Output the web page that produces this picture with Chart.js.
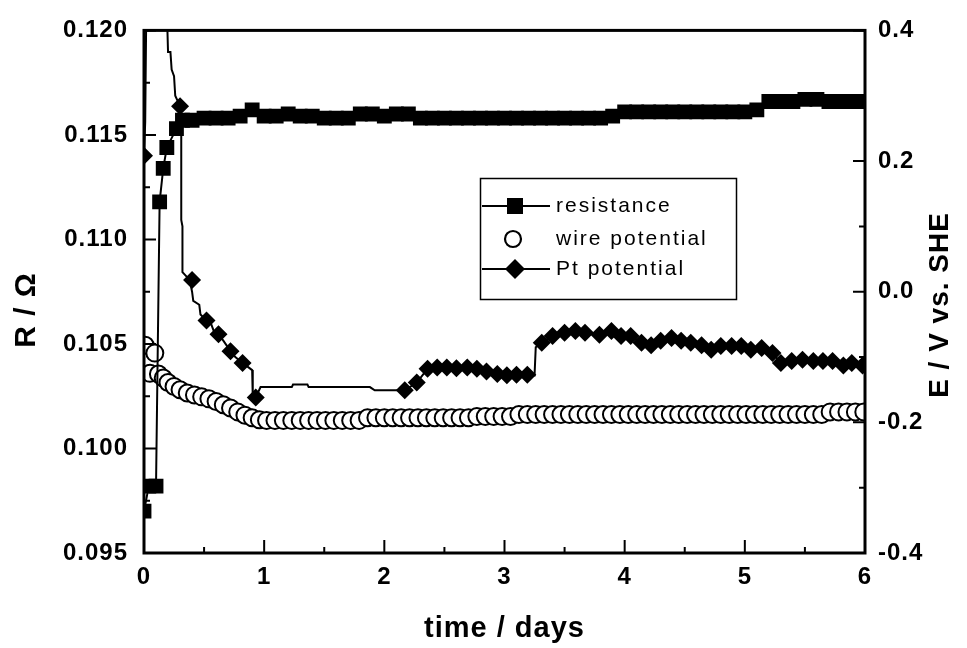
<!DOCTYPE html>
<html><head><meta charset="utf-8">
<script src="https://cdn.jsdelivr.net/npm/chart.js@4/dist/chart.umd.min.js"></script>
<style>html,body{margin:0;padding:0;background:#fff}#wrap{width:967px;height:648px}</style>
</head><body><div id="wrap"><canvas id="c" width="967" height="648"></canvas></div>
<script>
// ---------- data ----------
const resTime = [0, 0.04, 0.1, 0.13, 0.16, 0.19, 0.27, 0.32,
  0.4, 0.5, 0.6, 0.7, 0.8, 0.9, 1.0, 1.1, 1.2, 1.3, 1.4, 1.5, 1.6, 1.7, 1.8, 1.9, 2.0, 2.1, 2.2, 2.3,
  2.4, 2.5, 2.6, 2.7, 2.8, 2.9, 3.0, 3.1, 3.2, 3.3, 3.4, 3.5, 3.6, 3.7, 3.8, 3.9,
  4.0, 4.1, 4.2, 4.3, 4.4, 4.5, 4.6, 4.7, 4.8, 4.9, 5.0, 5.1,
  5.2, 5.3, 5.4, 5.5, 5.6, 5.7, 5.8, 5.9, 6.0];
const resVal = [0.0970, 0.0982, 0.0982, 0.1118, 0.1134, 0.1144, 0.1153, 0.1157,
  0.1157, 0.1158, 0.1158, 0.1158, 0.1159, 0.1162, 0.1159, 0.1159, 0.1160, 0.1159, 0.1159, 0.1158, 0.1158, 0.1158, 0.1160, 0.1160, 0.1159, 0.1160, 0.1160, 0.1158,
  0.1158, 0.1158, 0.1158, 0.1158, 0.1158, 0.1158, 0.1158, 0.1158, 0.1158, 0.1158, 0.1158, 0.1158, 0.1158, 0.1158, 0.1158, 0.1159,
  0.1161, 0.1161, 0.1161, 0.1161, 0.1161, 0.1161, 0.1161, 0.1161, 0.1161, 0.1161, 0.1161, 0.1162,
  0.1166, 0.1166, 0.1166, 0.1167, 0.1167, 0.1166, 0.1166, 0.1166, 0.1166];

const wireTime = [0.01, 0.05, 0.09, 0.12, 0.16, 0.20, 0.25, 0.30, 0.36, 0.42, 0.48, 0.54, 0.60, 0.66, 0.72, 0.78, 0.84, 0.90, 0.96, 1.02,
  1.09, 1.16, 1.23, 1.30, 1.37, 1.44, 1.51, 1.58, 1.65, 1.72, 1.79,
  1.86, 1.93, 2.00, 2.07, 2.14, 2.21, 2.28, 2.35, 2.42, 2.49, 2.56, 2.63, 2.70,
  2.77, 2.84, 2.91, 2.98, 3.05,
  3.12, 3.19, 3.26, 3.33, 3.40, 3.47, 3.54, 3.61, 3.68, 3.75, 3.82, 3.89, 3.96, 4.03, 4.10, 4.17, 4.24, 4.31, 4.38,
  4.45, 4.52, 4.59, 4.66, 4.73, 4.80, 4.87, 4.94, 5.01, 5.08, 5.15, 5.22, 5.29, 5.36, 5.43, 5.50, 5.57, 5.64,
  5.71, 5.78, 5.85, 5.92, 5.99];
const wireVal = [-0.082, -0.125, -0.094, -0.126, -0.132, -0.139, -0.145, -0.150, -0.155, -0.158, -0.161, -0.164, -0.168, -0.173, -0.178, -0.184, -0.189, -0.193, -0.196, -0.197,
  -0.197, -0.197, -0.197, -0.197, -0.197, -0.197, -0.197, -0.197, -0.197, -0.197, -0.197,
  -0.193, -0.193, -0.193, -0.193, -0.193, -0.193, -0.193, -0.193, -0.193, -0.193, -0.193, -0.193, -0.193,
  -0.191, -0.191, -0.191, -0.191, -0.191,
  -0.188, -0.188, -0.188, -0.188, -0.188, -0.188, -0.188, -0.188, -0.188, -0.188, -0.188, -0.188, -0.188, -0.188, -0.188, -0.188, -0.188, -0.188, -0.188,
  -0.188, -0.188, -0.188, -0.188, -0.188, -0.188, -0.188, -0.188, -0.188, -0.188, -0.188, -0.188, -0.188, -0.188, -0.188, -0.188, -0.188, -0.188,
  -0.184, -0.184, -0.184, -0.184, -0.184];

// Pt potential: diamond markers
const ptMarkTime = [0.0, 0.30, 0.40, 0.52, 0.62, 0.72, 0.82, 0.93,
  2.17, 2.27, 2.36, 2.44, 2.52, 2.60, 2.69, 2.77, 2.85, 2.94, 3.02, 3.10, 3.19,
  3.31, 3.40, 3.50, 3.59, 3.67, 3.79, 3.89, 3.97, 4.05, 4.14, 4.22, 4.30, 4.39, 4.47, 4.55, 4.64,
  4.72, 4.80, 4.89, 4.97, 5.05, 5.14, 5.23, 5.30, 5.39, 5.48, 5.57, 5.65, 5.73, 5.82, 5.89, 5.98];
const ptMarkVal = [0.208, 0.284, 0.018, -0.044, -0.065, -0.091, -0.109, -0.162,
  -0.151, -0.139, -0.118, -0.116, -0.116, -0.117, -0.116, -0.118, -0.122, -0.126, -0.128, -0.127, -0.127,
  -0.078, -0.068, -0.063, -0.060, -0.063, -0.066, -0.060, -0.068, -0.068, -0.078, -0.082, -0.075, -0.071, -0.075, -0.078, -0.082,
  -0.089, -0.083, -0.083, -0.083, -0.089, -0.086, -0.094, -0.109, -0.106, -0.104, -0.106, -0.106, -0.106, -0.113, -0.109, -0.113];
// Pt potential: continuous recorded trace (the line)
const ptLineTime = [0, 0.01, 0.02, 0.19, 0.195, 0.2, 0.22, 0.23, 0.25, 0.26, 0.30, 0.31, 0.31, 0.32, 0.32, 0.38, 0.40, 0.41, 0.46, 0.47,
  0.52, 0.56, 0.58, 0.62, 0.66, 0.72, 0.76, 0.82, 0.90, 0.905, 0.93, 0.97, 1.23, 1.24, 1.36, 1.37, 1.88, 1.92, 2.10,
  2.17, 2.27, 2.36, 2.44, 2.52, 2.60, 2.69, 2.77, 2.85, 2.94, 3.02, 3.10, 3.19, 3.25, 3.26,
  3.31, 3.40, 3.50, 3.59, 3.67, 3.79, 3.89, 3.97, 4.05, 4.14, 4.22, 4.30, 4.39, 4.47, 4.55, 4.64,
  4.72, 4.80, 4.89, 4.97, 5.05, 5.14, 5.23, 5.30, 5.39, 5.48, 5.57, 5.65, 5.73, 5.82, 5.89, 5.98];
const ptLineVal = [0.208, 0.26, 0.45, 0.45, 0.40, 0.367, 0.367, 0.34, 0.33, 0.30, 0.284, 0.27, 0.11, 0.10, 0.03, 0.018, 0.0, -0.014, -0.02, -0.035,
  -0.044, -0.05, -0.06, -0.065, -0.075, -0.091, -0.10, -0.109, -0.12, -0.16, -0.162, -0.146, -0.146, -0.142, -0.142, -0.146, -0.146, -0.151, -0.151,
  -0.151, -0.139, -0.118, -0.116, -0.116, -0.117, -0.116, -0.118, -0.122, -0.126, -0.128, -0.127, -0.127, -0.128, -0.085,
  -0.078, -0.068, -0.063, -0.060, -0.063, -0.066, -0.060, -0.068, -0.068, -0.078, -0.082, -0.075, -0.071, -0.075, -0.078, -0.082,
  -0.089, -0.083, -0.083, -0.083, -0.089, -0.086, -0.094, -0.109, -0.106, -0.104, -0.106, -0.106, -0.106, -0.113, -0.109, -0.113];

// ticks
const xTickVals = [0, 1, 2, 3, 4, 5, 6];
const xTickLabels = ['0', '1', '2', '3', '4', '5', '6'];
const xMinorVals = [0.5, 1.5, 2.5, 3.5, 4.5, 5.5];
const yLeftTickVals = [0.095, 0.100, 0.105, 0.110, 0.115, 0.120];
const yLeftTickLabels = ['0.095', '0.100', '0.105', '0.110', '0.115', '0.120'];
const yLeftMinorVals = [0.0975, 0.1025, 0.1075, 0.1125, 0.1175];
const yRightTickVals = [-0.4, -0.2, 0.0, 0.2, 0.4];
const yRightTickLabels = ['-0.4', '-0.2', '0.0', '0.2', '0.4'];
const yRightMinorVals = [-0.3, -0.1, 0.1, 0.3];

const seriesNames = ['resistance', 'wire potential', 'Pt potential'];
const xTitle = 'time / days';
const yLeftTitle = 'R / \u03A9';
const yRightTitle = 'E / V vs. SHE';

// ---------- chart ----------
const FONT = 'Arial, "Liberation Sans", Helvetica, sans-serif';
Chart.defaults.font.family = FONT;
Chart.defaults.color = '#000';
const pts = (xs, ys) => xs.map((t, i) => ({x: t, y: ys[i]}));

const framePlugin = {
  id: 'framePlugin',
  beforeDraw(chart) { chart.ctx.letterSpacing = '1px'; },
  afterDatasetsDraw(chart) {
    const {ctx, chartArea: a, scales: {x, yL, yR}} = chart;
    ctx.save();
    ctx.strokeStyle = '#000';
    ctx.lineWidth = 2;
    ctx.beginPath();
    const seg = (x1, y1, x2, y2) => { ctx.moveTo(x1, y1); ctx.lineTo(x2, y2); };
    xTickVals.forEach(v => { const p = x.getPixelForValue(v); seg(p, a.bottom, p, a.bottom - 13); });
    xMinorVals.forEach(v => { const p = x.getPixelForValue(v); seg(p, a.bottom, p, a.bottom - 6); });
    yLeftTickVals.forEach(v => { const p = yL.getPixelForValue(v); seg(a.left, p, a.left + 12, p); });
    yLeftMinorVals.forEach(v => { const p = yL.getPixelForValue(v); seg(a.left, p, a.left + 6, p); });
    yRightTickVals.forEach(v => { const p = yR.getPixelForValue(v); seg(a.right, p, a.right - 12, p); });
    yRightMinorVals.forEach(v => { const p = yR.getPixelForValue(v); seg(a.right, p, a.right - 6, p); });
    ctx.stroke();
    ctx.lineWidth = 3;
    ctx.strokeRect(a.left, a.top, a.right - a.left, a.bottom - a.top);
    ctx.restore();
  },
  afterDraw(chart) {
    const ctx = chart.ctx;
    // vertical axis titles, both reading bottom-to-top
    const vTitle = (txt, cx, cy, size) => {
      ctx.save();
      ctx.font = 'bold ' + size + 'px ' + FONT;
      ctx.letterSpacing = '1px';
      ctx.fillStyle = '#000';
      ctx.textAlign = 'center';
      ctx.textBaseline = 'middle';
      ctx.translate(cx, cy);
      ctx.rotate(-Math.PI / 2);
      ctx.fillText(txt, 0, 0);
      ctx.restore();
    };
    vTitle(yLeftTitle, 27, 310, 30);
    vTitle(yRightTitle, 940, 305, 28);

    // legend box
    ctx.save();
    ctx.strokeStyle = '#000';
    ctx.lineWidth = 1.5;
    ctx.strokeRect(480.5, 178.5, 256, 121);
    const rows = [206, 239, 269];
    const mx = 515;
    ctx.lineWidth = 2;
    ctx.beginPath(); ctx.moveTo(482, rows[0]); ctx.lineTo(550, rows[0]); ctx.stroke();
    ctx.fillStyle = '#000';
    ctx.fillRect(mx - 8, rows[0] - 8, 16, 16);
    ctx.beginPath(); ctx.arc(mx - 2, rows[1], 8, 0, Math.PI * 2);
    ctx.fillStyle = '#fff'; ctx.fill(); ctx.lineWidth = 2.2; ctx.stroke();
    ctx.lineWidth = 2;
    ctx.beginPath(); ctx.moveTo(482, rows[2]); ctx.lineTo(550, rows[2]); ctx.stroke();
    ctx.fillStyle = '#000';
    ctx.beginPath();
    ctx.moveTo(mx - 10, rows[2]); ctx.lineTo(mx, rows[2] - 10); ctx.lineTo(mx + 10, rows[2]); ctx.lineTo(mx, rows[2] + 10);
    ctx.closePath(); ctx.fill();
    ctx.font = '21px ' + FONT;
    ctx.letterSpacing = '2px';
    ctx.textAlign = 'left';
    ctx.textBaseline = 'middle';
    seriesNames.forEach((n, i) => ctx.fillText(n, 556, rows[i]));
    ctx.restore();
  }
};

const tickFont = {size: 24, weight: 'bold'};
const titleFont = {size: 29, weight: 'bold'};

new Chart(document.getElementById('c'), {
  type: 'scatter',
  data: {
    datasets: [
      {label: seriesNames[2] + ' markers', data: pts(ptMarkTime, ptMarkVal), yAxisID: 'yR', showLine: false,
        pointStyle: 'rectRot', pointRadius: 9, pointBackgroundColor: '#000', pointBorderColor: '#000', pointBorderWidth: 0, order: 0},
      {label: seriesNames[2], data: pts(ptLineTime, ptLineVal), yAxisID: 'yR', showLine: true, borderColor: '#000', borderWidth: 2,
        pointRadius: 0, tension: 0, order: 1},
      {label: seriesNames[0], data: pts(resTime, resVal), yAxisID: 'yL', showLine: true, borderColor: '#000', borderWidth: 2,
        pointStyle: 'rect', pointRadius: 10.5, pointBackgroundColor: '#000', pointBorderColor: '#000', pointBorderWidth: 0, tension: 0, order: 2},
      {label: seriesNames[1], data: pts(wireTime, wireVal), yAxisID: 'yR', showLine: false,
        pointStyle: 'circle', pointRadius: 8.5, pointBackgroundColor: '#fff', pointBorderColor: '#000', pointBorderWidth: 2, order: 3}
    ]
  },
  options: {
    responsive: false,
    animation: false,
    devicePixelRatio: 1,
    layout: {padding: {top: 23, left: 0, right: 0, bottom: 0}},
    plugins: {legend: {display: false}, tooltip: {enabled: false}},
    scales: {
      x: {
        type: 'linear', position: 'bottom', min: 0, max: 6,
        afterFit: s => { s.height = 95; },
        afterBuildTicks: s => { s.ticks = xTickVals.map(v => ({value: v})); },
        ticks: {font: tickFont, color: '#000', padding: 10, maxRotation: 0, autoSkip: false,
          callback: (v, i) => xTickLabels[i]},
        grid: {display: false, drawTicks: false}, border: {display: false},
        title: {display: true, text: xTitle, font: titleFont, color: '#000', padding: {top: 0, bottom: 2}}
      },
      yL: {
        type: 'linear', position: 'left', min: 0.095, max: 0.120,
        afterFit: s => { s.width = 144; },
        afterBuildTicks: s => { s.ticks = yLeftTickVals.map(v => ({value: v})); },
        ticks: {font: tickFont, color: '#000', padding: 16, autoSkip: false, callback: (v, i) => yLeftTickLabels[i]},
        grid: {display: false, drawTicks: false}, border: {display: false}
      },
      yR: {
        type: 'linear', position: 'right', min: -0.4, max: 0.4,
        afterFit: s => { s.width = 102; },
        afterBuildTicks: s => { s.ticks = yRightTickVals.map(v => ({value: v})); },
        ticks: {font: tickFont, color: '#000', padding: 13, autoSkip: false, callback: (v, i) => yRightTickLabels[i]},
        grid: {display: false, drawTicks: false}, border: {display: false}
      }
    }
  },
  plugins: [framePlugin]
});
</script>
</body></html>
